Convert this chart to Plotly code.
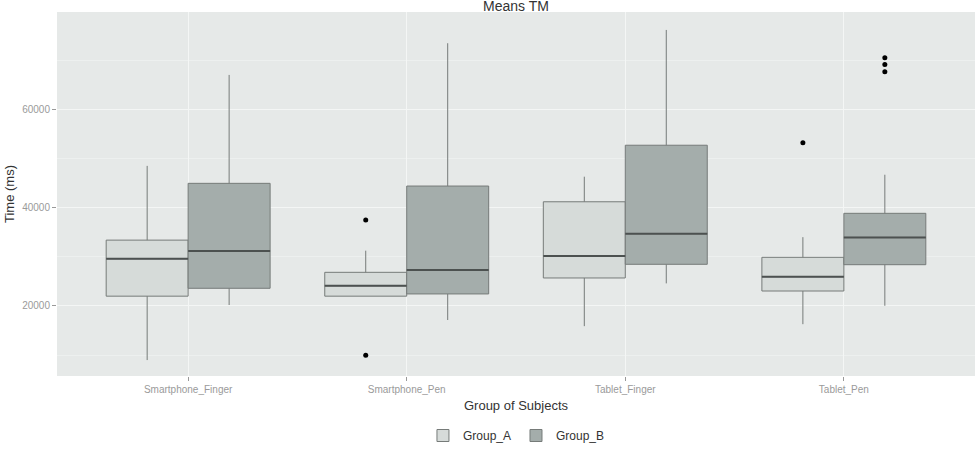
import plotly.graph_objects as go

categories = ["Smartphone_Finger", "Smartphone_Pen", "Tablet_Finger", "Tablet_Pen"]
groups = ["Group_A", "Group_B"]

# Group A stats
a_low = [9000, 22000, 15900, 16300]
a_q1 = [22000, 22000, 25700, 23050]
a_med = [29600, 24100, 30150, 25950]
a_q3 = [33400, 26850, 41200, 29900]
a_high = [48500, 31250, 46300, 34000]
a_out_cat = [1, 1, 3]
a_out_val = [37500, 10000, 53200]

# Group B stats
b_low = [20200, 17150, 24600, 20050]
b_q1 = [23600, 22450, 28480, 28400]
b_med = [31200, 27300, 34700, 33950]
b_q3 = [44950, 44400, 52700, 38850]
b_high = [67000, 73450, 76150, 46700]
b_out_cat = [3, 3, 3]
b_out_val = [70500, 69100, 67650]

fills = ["#d6dbd9", "#a4adab"]
line_col = "#767b79"
med_col = "#4c5150"
dodge = 0.1875
bw = 0.375

fig = go.Figure()

stats = [
    (a_low, a_q1, a_med, a_q3, a_high, a_out_cat, a_out_val),
    (b_low, b_q1, b_med, b_q3, b_high, b_out_cat, b_out_val),
]
for gi, (lo, q1, med, q3, hi, oc, ov) in enumerate(stats):
    off = -dodge if gi == 0 else dodge
    xs = [i + 1 + off for i in range(len(categories))]
    fig.add_trace(go.Box(
        x=xs, q1=q1, median=med, q3=q3, lowerfence=lo, upperfence=hi,
        orientation="v", width=bw, name=groups[gi],
        fillcolor=fills[gi], line=dict(color=line_col, width=1),
        whiskerwidth=0, boxpoints=False, showlegend=True,
    ))
    # thicker median lines (ggplot style)
    mx, my = [], []
    for x, m in zip(xs, med):
        mx += [x - bw / 2, x + bw / 2, None]
        my += [m, m, None]
    fig.add_trace(go.Scatter(x=mx, y=my, mode="lines",
                             line=dict(color=med_col, width=2),
                             showlegend=False, hoverinfo="skip"))
    # outliers
    fig.add_trace(go.Scatter(
        x=[c + 1 + off for c in oc], y=ov, mode="markers",
        marker=dict(color="black", size=5), showlegend=False,
    ))

fig.update_layout(
    width=980, height=450,
    margin=dict(l=57, r=5, t=12, b=74),
    paper_bgcolor="white", plot_bgcolor="#e6e9e8",
    boxmode="overlay",
    font=dict(family="Liberation Sans, Arial, sans-serif", color="#333333"),
    title=dict(text="Means TM", x=0.5265, xanchor="center",
               y=0.986, yanchor="middle", yref="container",
               font=dict(size=14, color="#333333")),
    legend=dict(orientation="h", x=0.527, xanchor="center",
                xref="container", yref="container", y=-0.018,
                yanchor="bottom", font=dict(size=12, color="#333333"),
                bgcolor="rgba(0,0,0,0)", itemwidth=30),
    showlegend=True,
)
fig.update_xaxes(
    range=[0.4, 4.6], tickvals=[1, 2, 3, 4], ticktext=categories,
    showgrid=True, gridcolor="#f4f6f5", gridwidth=1, zeroline=False,
    ticks="outside", ticklen=4, tickcolor="#999999",
    tickfont=dict(size=10, color="#9a9a9a"),
    title=dict(text="Group of Subjects", font=dict(size=13, color="#333333"), standoff=6),
    showline=False,
)
fig.update_yaxes(
    range=[5760, 79800], tickvals=[20000, 40000, 60000],
    ticktext=["20000", "40000", "60000"],
    showgrid=True, gridcolor="#f4f6f5", gridwidth=1, zeroline=False,
    minor=dict(showgrid=True, gridcolor="#edf0ef", tickvals=[10000, 30000, 50000, 70000], ticks=""),
    ticks="outside", ticklen=4, tickcolor="#999999",
    tickfont=dict(size=10, color="#9a9a9a"),
    title=dict(text="Time (ms)", font=dict(size=13, color="#333333"), standoff=4),
    showline=False,
)

fig.write_html("out.html")
